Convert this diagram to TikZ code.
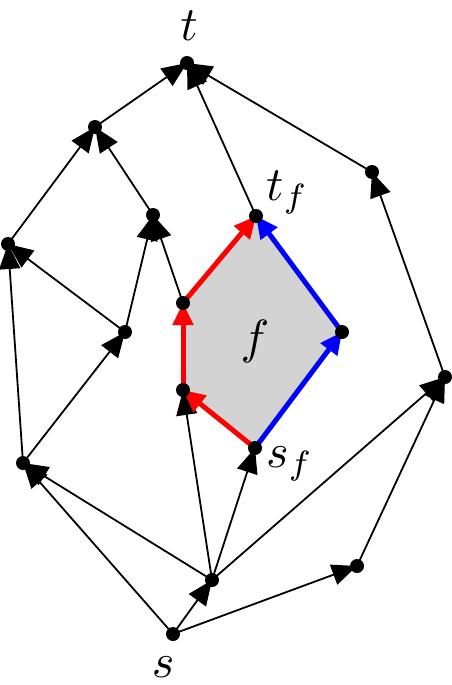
\documentclass[tikz,border=0pt]{standalone}
\usepackage{graphicx}
\usetikzlibrary{arrows.meta}
\definecolor{facegray}{RGB}{211,211,211}
\tikzset{
  edge/.style={line width=1.8pt, -{Triangle[length=25pt,width=21pt]}},
  redge/.style={line width=5pt, red, -{Triangle[length=22pt,width=20pt]}},
  bedge/.style={line width=5pt, blue, -{Triangle[length=22pt,width=20pt]}},
  dot/.style={circle, fill=black, inner sep=0pt, minimum size=14pt},
  lbl/.style={inner sep=0pt}
}
\newcommand{\biglbl}[1]{\scalebox{4.8}{$#1$}}
\begin{document}
\begin{tikzpicture}[x=1pt,y=-1pt]
\useasboundingbox (0,0) rectangle (452,685);
\coordinate (t) at (187,63);
\coordinate (a) at (95,127);
\coordinate (b) at (153,215);
\coordinate (c) at (8,244);
\coordinate (d) at (125,332);
\coordinate (e) at (23,463);
\coordinate (p1) at (183,303);
\coordinate (p2) at (183,390);
\coordinate (tf) at (256,216);
\coordinate (q) at (342,332);
\coordinate (sf) at (255,448);
\coordinate (r1) at (372,172);
\coordinate (r2) at (445,377);
\coordinate (r3) at (357,566);
\coordinate (m) at (212,580);
\coordinate (s) at (173,634);
\fill[facegray] (p1) -- (tf) -- (q) -- (sf) -- (p2) -- cycle;
\draw[edge] (a) -- (t);
\draw[edge] (tf) -- (t);
\draw[edge] (r1) -- (t);
\draw[edge] (c) -- (a);
\draw[edge] (b) -- (a);
\draw[edge] (d) -- (b);
\draw[edge] (p1) -- (b);
\draw[edge] (e) -- (c);
\draw[edge] (d) -- (c);
\draw[edge] (e) -- (d);
\draw[edge] (m) -- (e);
\draw[edge] (s) -- (e);
\draw[edge] (m) -- (p2);
\draw[edge] (m) -- (sf);
\draw[edge] (m) -- (r2);
\draw[edge] (r3) -- (r2);
\draw[edge] (r2) -- (r1);
\draw[edge] (s) -- (m);
\draw[edge] (s) -- (r3);
\draw[redge] (sf) -- (p2);
\draw[redge] (p2) -- (p1);
\draw[redge] (p1) -- (tf);
\draw[bedge] (sf) -- (q);
\draw[bedge] (q) -- (tf);
\foreach \n in {t,a,b,c,d,e,p1,p2,tf,q,sf,r1,r2,r3,m,s}
  \node[dot] (dot\n) at (\n) {};
\node[lbl, anchor=base] (lt) at (189,41) {\biglbl{t}};
\node[lbl, anchor=base] (ls) at (163,677) {\biglbl{s}};
\node[lbl, anchor=base west] (ltf) at (266,200) {\biglbl{t_f}};
\node[lbl, anchor=base west] (lsf) at (266,467) {\biglbl{s_f}};
\node[lbl, anchor=base] (lf) at (255,353) {\biglbl{f}};
\end{tikzpicture}
\end{document}
